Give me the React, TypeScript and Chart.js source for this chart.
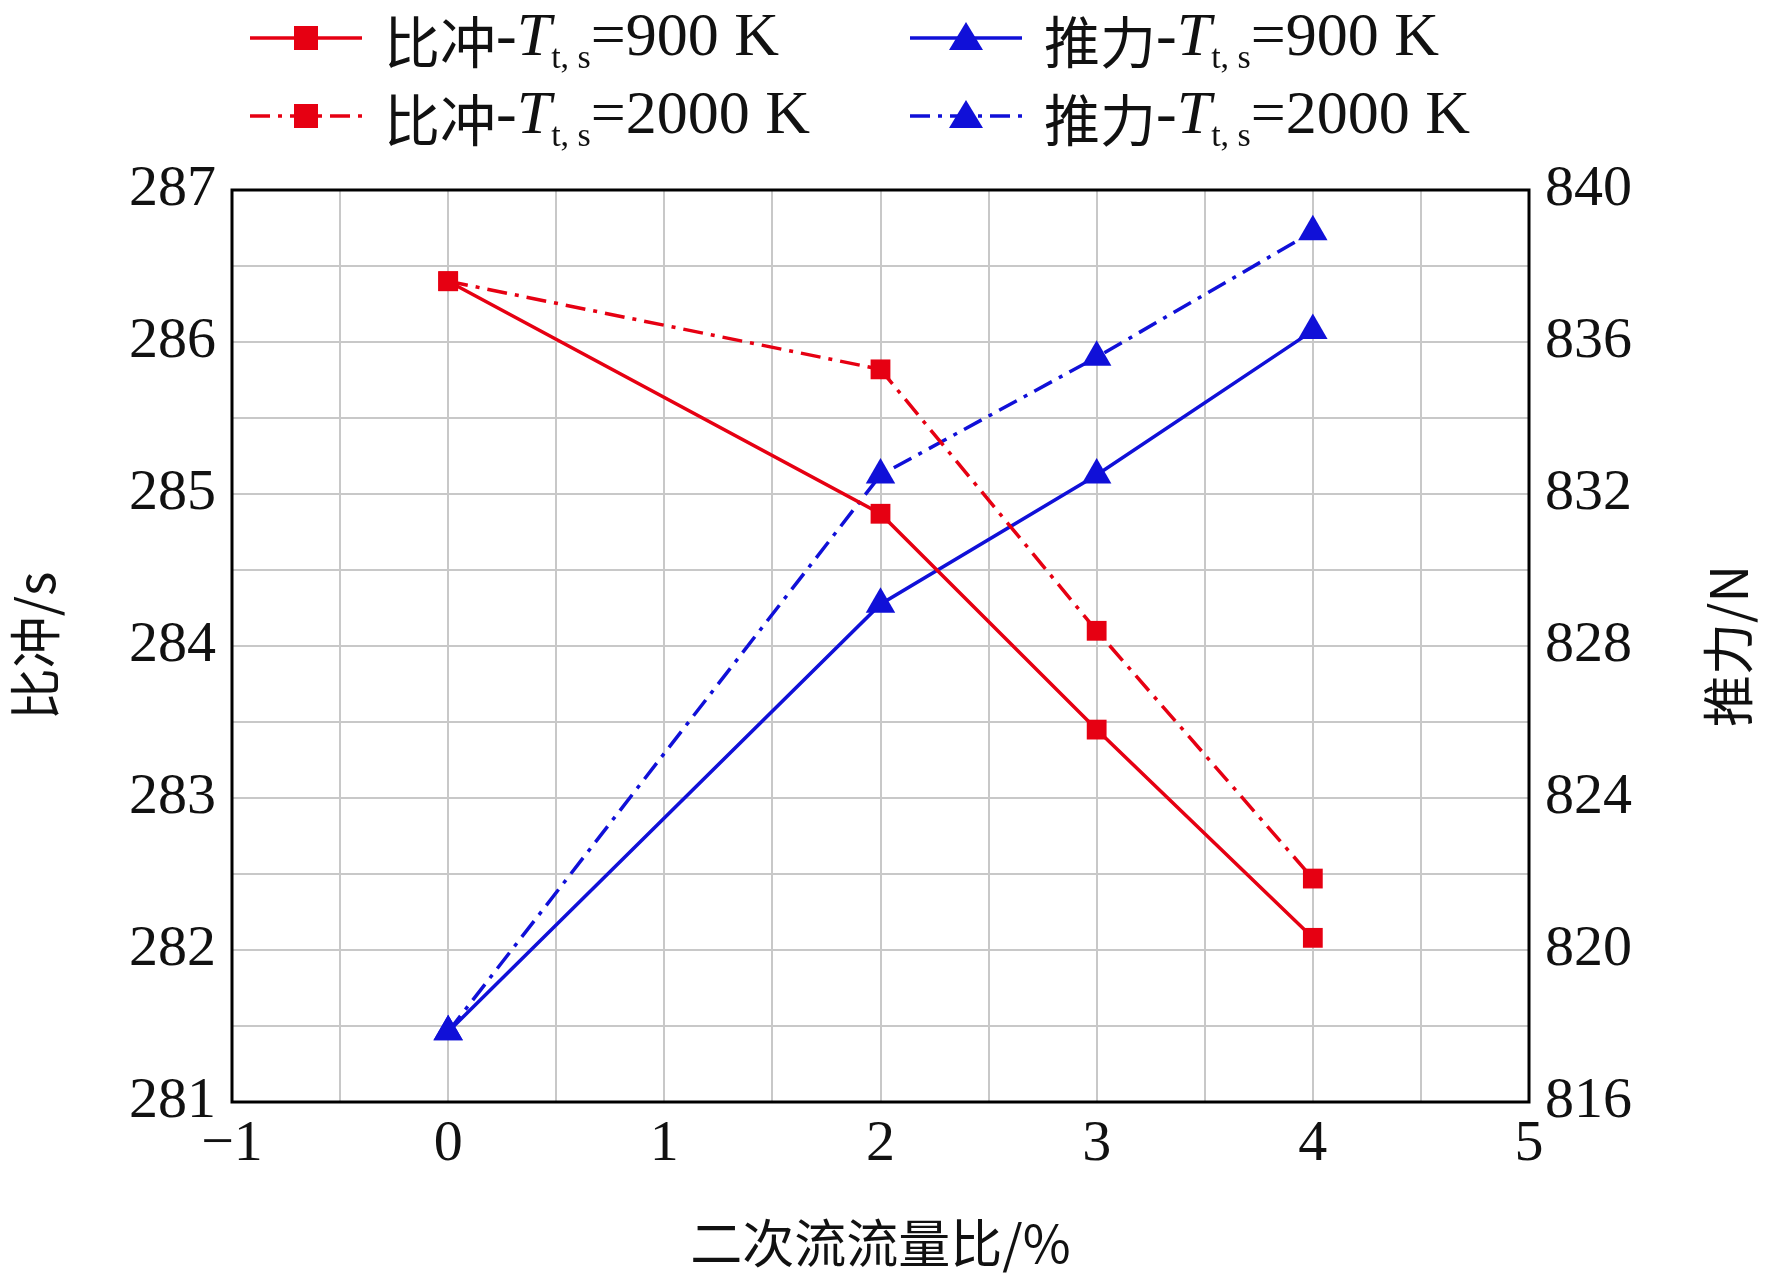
import React, { useEffect, useRef } from "react";
import { Chart, registerables } from "chart.js";
Chart.register(...registerables);

const xValues = [0, 2, 3, 4];
const isp900 = [286.4, 284.87, 283.45, 282.08];
const isp2000 = [286.4, 285.82, 284.1, 282.47];
const thrust900 = [817.85, 829.1, 832.5, 836.3];
const thrust2000 = [817.85, 832.5, 835.6, 838.9];

const RED = "#e60012";
const BLUE = "#1010d8";
const DASH = [20, 8, 4, 8];
const TICK_FONT = { family: "Liberation Serif", size: 58 };
const CJK_FONT = { family: "Noto Sans CJK SC", size: 52 };

const pts = (ys: number[]) => xValues.map((x, i) => ({ x, y: ys[i] }));

const frame = {
  id: "frame",
  afterDraw(c: any) {
    const a = c.chartArea, ctx = c.ctx;
    ctx.save();
    ctx.strokeStyle = "#000";
    ctx.lineWidth = 3;
    ctx.strokeRect(a.left, a.top, a.right - a.left, a.bottom - a.top);
    ctx.translate(1728, (a.top + a.bottom) / 2);
    ctx.rotate(-Math.PI / 2);
    ctx.fillStyle = "#111";
    ctx.font = `${CJK_FONT.size}px "${CJK_FONT.family}"`;
    ctx.textAlign = "center";
    ctx.textBaseline = "middle";
    ctx.fillText("推力/N", 0, 0);
    ctx.restore();
  },
};

function LegendItem({ color, dashed, tri, temp, label, left, top }: any) {
  return (
    <div style={{ position: "absolute", left, top, display: "flex", alignItems: "center", height: 64 }}>
      <svg width={112} height={40} style={{ marginRight: 22 }}>
        <line x1={0} y1={20} x2={112} y2={20} stroke={color} strokeWidth={3.5}
          strokeDasharray={dashed ? "20 8 4 8" : undefined} />
        {tri ? <polygon points="56,4 73,32 39,32" fill={color} />
          : <rect x={44} y={8} width={24} height={24} fill={color} />}
      </svg>
      <span style={{ fontFamily: "Noto Sans CJK SC", fontSize: 56, color: "#111" }}>{label}</span>
      <span style={{ fontFamily: "Liberation Serif", fontSize: 62, color: "#111" }}>
        -<i>T</i><sub style={{ fontSize: 34 }}>t, s</sub>={temp} K
      </span>
    </div>
  );
}

export default function App() {
  const ref = useRef<HTMLCanvasElement>(null);
  useEffect(() => {
    const ds = (label: string, data: any, color: string, dashed: boolean, tri: boolean, axis: string) => ({
      label, data, yAxisID: axis, borderColor: color, backgroundColor: color, borderWidth: 3.5,
      borderDash: dashed ? DASH : [], pointStyle: tri ? "triangle" : "rect",
      pointRadius: tri ? 17 : 14, pointBorderWidth: 0, pointBackgroundColor: color,
    });
    const chart = new Chart(ref.current!, {
      type: "line",
      data: {
        datasets: [
          ds("isp900", pts(isp900), RED, false, false, "y"),
          ds("isp2000", pts(isp2000), RED, true, false, "y"),
          ds("th900", pts(thrust900), BLUE, false, true, "y1"),
          ds("th2000", pts(thrust2000), BLUE, true, true, "y1"),
        ],
      },
      options: {
        animation: false, responsive: false,
        layout: { padding: { top: 190, left: 0, right: 0, bottom: 0 } },
        plugins: { legend: { display: false }, tooltip: { enabled: false } },
        scales: {
          x: {
            type: "linear", min: -1, max: 5,
            afterFit: (s: any) => { s.height = 176; },
            ticks: { stepSize: 0.5, color: "#111", font: TICK_FONT, maxRotation: 0, padding: 8,
              callback: (v: any) => (Number.isInteger(v) ? (v < 0 ? "\u2212" + Math.abs(v) : String(v)) : "") },
            grid: { color: "#c8c8c8", lineWidth: 2, drawTicks: false },
            border: { display: false },
            title: { display: true, text: "二次流流量比/%", font: CJK_FONT, color: "#111", padding: { top: 0 } },
          },
          y: {
            position: "left", min: 281, max: 287,
            afterFit: (s: any) => { s.width = 232; },
            ticks: { stepSize: 0.5, color: "#111", font: TICK_FONT, padding: 16,
              callback: (v: any) => (Number.isInteger(v) ? String(v) : "") },
            grid: { color: "#c8c8c8", lineWidth: 2, drawTicks: false },
            border: { display: false },
            title: { display: true, text: "比冲/s", font: CJK_FONT, color: "#111" },
          },
          y1: {
            position: "right", min: 816, max: 840,
            afterFit: (s: any) => { s.width = 243; },
            ticks: { stepSize: 4, color: "#111", font: TICK_FONT, padding: 16 },
            grid: { display: false, drawTicks: false },
            border: { display: false },
            title: { display: false },
          },
        },
      },
      plugins: [frame],
    });
    return () => chart.destroy();
  }, []);
  return (
    <div style={{ position: "absolute", left: 0, top: 0, width: 1772, height: 1278, background: "#fff" }}>
      <canvas ref={ref} width={1772} height={1278} style={{ position: "absolute", left: 0, top: 0 }} />
      <LegendItem color={RED} dashed={false} tri={false} temp="900" label="比冲" left={250} top={6} />
      <LegendItem color={RED} dashed={true} tri={false} temp="2000" label="比冲" left={250} top={84} />
      <LegendItem color={BLUE} dashed={false} tri={true} temp="900" label="推力" left={910} top={6} />
      <LegendItem color={BLUE} dashed={true} tri={true} temp="2000" label="推力" left={910} top={84} />
    </div>
  );
}
